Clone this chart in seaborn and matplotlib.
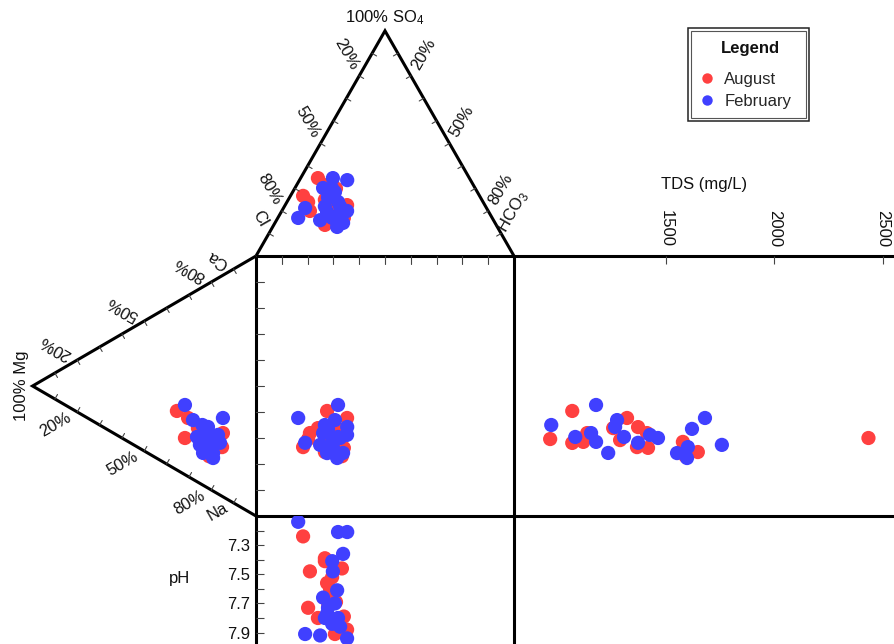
import numpy as np
import pandas as pd
import matplotlib
matplotlib.use('Agg')
import matplotlib.pyplot as plt
from matplotlib.lines import Line2D
from matplotlib.patches import Rectangle
import seaborn as sns

# sampling campaign of each sample
month = ['August'] * 16 + ['February'] * 18

# anions, % of meq (Cl = 100 - HCO3 - SO4)
hco3 = [4.9, 10.9, 8.2, 6.7, 19.8, 11.8, 24.3, 24.0, 20.6, 14.2, 15.5, 20.7, 16.0, 19.0, 25.6, 19.0,
        7.9, 19.8, 18.5, 8.4, 16.9, 10.9, 12.5, 26.4, 17.8, 25.0, 16.4, 21.1, 14.9, 15.7, 22.8, 14.5, 25.3, 21.6]
so4 = [26.7, 20.0, 24.0, 34.6, 13.8, 31.5, 18.0, 22.6, 20.0, 25.0, 28.0, 16.0, 30.0, 22.0, 16.9, 18.0,
       16.9, 24.0, 33.7, 21.3, 15.9, 30.2, 34.6, 14.7, 19.5, 12.9, 28.4, 16.9, 26.0, 22.0, 18.0, 30.0, 20.0, 22.0]

# cations, % of meq (Na = 100 - Ca - Mg)
ca = [18.9, 24.5, 18.6, 20.8, 14.6, 22.7, 12.5, 22.5, 14.1, 16.1, 18.5, 17.7, 23.2, 19.4, 15.2, 19.5,
      30.3, 26.8, 23.5, 20.1, 14.8, 20.9, 16.5, 12.4, 14.6, 12.7, 22.8, 20.1, 22.5, 23.0, 17.2, 17.5, 22.7, 19.5]
mg = [15.2, 14.8, 22.0, 26.0, 20.0, 35.4, 21.0, 30.4, 31.8, 24.0, 20.0, 23.0, 22.0, 25.0, 22.0, 18.0,
      14.8, 31.8, 21.5, 16.1, 25.1, 22.0, 20.0, 23.7, 19.2, 19.2, 28.2, 20.6, 22.0, 24.0, 26.4, 22.0, 17.0, 21.0]

# TDS (mg/L) and pH
tds = [1366, 1136, 965, 1256, 1647, 1067, 1590, 1320, 2435, 1067, 1118, 1288, 1371, 1412, 1417, 1578,
       1680, 1177, 1265, 1371, 1758, 1154, 1601, 1233, 1551, 1597, 1274, 1081, 1620, 970, 1306, 1177, 1426, 1463]
ph = [7.24, 7.48, 7.73, 7.80, 7.39, 7.56, 7.46, 7.88, 7.91, 7.41, 7.52, 7.60, 7.69, 7.64, 7.79, 7.71,
      7.14, 7.21, 7.21, 7.91, 7.92, 7.66, 7.48, 7.36, 7.77, 7.61, 7.70, 7.41, 7.73, 7.80, 7.80, 7.84, 7.94, 7.86]

pct_labels = [20, 50, 80]
tds_ticks = [1500, 2000, 2500]
ph_ticks = [7.2, 7.3, 7.4, 7.5, 7.6, 7.7, 7.8, 7.9]
ph_labels = ['', '7.3', '', '7.5', '', '7.7', '', '7.9']

pal = {'August': '#ff4040', 'February': '#4040ff'}

sns.set_theme(style='white')
plt.rcParams['font.family'] = ['Liberation Sans', 'DejaVu Sans']
plt.rcParams['mathtext.default'] = 'regular'
txt_color = '#111111'

df = pd.DataFrame({'month': month, 'hco3': hco3, 'so4': so4, 'ca': ca, 'mg': mg, 'tds': tds, 'ph': ph})
r3 = np.sqrt(3) / 2
# Durov projection: anion triangle on top, cation triangle on the left
df['ax'] = df['hco3'] + df['so4'] / 2
df['ay'] = 100 + df['so4'] * r3
df['cx'] = -df['mg'] * r3
df['cy'] = df['ca'] + df['mg'] / 2

W, H = 894, 644
fig = plt.figure(figsize=(W / 100, H / 100), dpi=100)

# square sits at these pixels
X0, X1, Y0, Y1 = 256, 514, 516, 256
xlim = (-X0 / (X1 - X0) * 100, (W - X0) / (X1 - X0) * 100)
ylim = ((Y0 - H) / (Y0 - Y1) * 100, Y0 / (Y0 - Y1) * 100)

ax = fig.add_axes([0, 0, 1, 1])
kw = dict(hue='month', palette=pal, s=105, linewidth=0, legend=False, ax=ax)
sns.scatterplot(data=df, x='ax', y='ay', **kw)
sns.scatterplot(data=df, x='cx', y='cy', **kw)
sns.scatterplot(data=df, x='ax', y='cy', **kw)
ax.set_xlim(*xlim)
ax.set_ylim(*ylim)
ax.axis('off')

line = dict(color='black', lw=2.2, solid_joinstyle='miter', solid_capstyle='butt')
top = 100 + 100 * r3
ax.plot([0, 50, 100], [100, top, 100], **line)
ax.plot([0, -100 * r3, 0], [100, 50, 0], **line)
ax.plot([0, 0], [100, ylim[0]], **line)
ax.plot([100, 100], [100, ylim[0]], **line)
ax.plot([0, xlim[1]], [100, 100], **line)
ax.plot([0, xlim[1]], [0, 0], **line)

# small ticks inside square
tk = dict(color='#444444', lw=0.8)
for v in range(10, 100, 10):
    ax.plot([v, v], [100, 100 - 8 / 2.6], **tk)
    ax.plot([0, 8 / 2.58], [v, v], **tk)

# ticks on triangle edges (start, end, inward normal)
edges = [((0, 100), (50, top), (r3, -0.5)),
         ((50, top), (100, 100), (-r3, -0.5)),
         ((-100 * r3, 50), (0, 100), (0.5, -r3)),
         ((-100 * r3, 50), (0, 0), (0.5, r3))]
for p, q, n in edges:
    for t in np.arange(0.1, 1.0, 0.1):
        x = p[0] + t * (q[0] - p[0])
        y = p[1] + t * (q[1] - p[1])
        ax.plot([x, x + 2 * n[0]], [y, y + 2 * n[1]], **tk)


def lab(text, xy, direction, dist, rot, **extra):
    ax.annotate(text, xy=xy, xytext=(dist * direction[0], dist * direction[1]),
                textcoords='offset pixels', rotation=rot, ha='center', va='center',
                fontsize=12, color=txt_color, **extra)


for p in pct_labels:
    f = p / 100
    lab(f'{p}%', (50 * (1 - f), 100 + 100 * r3 * (1 - f)), (-0.5, r3), 25, -60)
    lab(f'{p}%', (50 + 50 * f, top - 100 * r3 * f), (0.5, r3), 25, 60)
    lab(f'{p}%', (-100 * r3 * (1 - f), 50 + 50 * f), (-r3, 0.5), 25, 150)
    lab(f'{p}%', (-100 * r3 * (1 - f), 50 - 50 * f), (-r3, -0.5), 25, 30)

lab('Cl', (5, 100 + 10 * r3), (-0.5, r3), 17, -60)
lab('HCO$_3$', (95, 100 + 10 * r3), (0.5, r3), 25, 60)
lab('Ca', (-10 * r3, 95), (-r3, 0.5), 18, 150)
lab('Na', (-10 * r3, 5), (-r3, -0.5), 18, 30)
ax.annotate('100% SO$_4$', xy=(50, top), xytext=(0, 4), textcoords='offset pixels',
            ha='center', va='bottom', fontsize=12, color=txt_color)
ax.annotate('100% Mg', xy=(-100 * r3, 50), xytext=(-4, 0), textcoords='offset pixels',
            ha='right', va='center', rotation=90, fontsize=12, color=txt_color)

# TDS panel to the right of the square
ax_t = fig.add_axes([X1 / W, (H - Y0) / H, (W - X1) / W, (Y0 - Y1) / H])
ax_t.patch.set_visible(False)
sns.scatterplot(data=df, x='tds', y='cy', hue='month', palette=pal, s=105, linewidth=0,
                legend=False, ax=ax_t)
ax_t.set_xlim(798, 2553)
ax_t.set_ylim(0, 100)
ax_t.set_yticks([])
ax_t.set_xticks(tds_ticks)
ax_t.set_xticklabels([str(v) for v in tds_ticks])
ax_t.xaxis.tick_top()
ax_t.xaxis.set_label_position('top')
ax_t.tick_params(axis='x', direction='in', length=5.8, width=0.8, color='#444444', pad=6.5,
                 labelrotation=-90, labelsize=12, labelcolor=txt_color, top=True, bottom=False)
ax_t.set_xlabel('TDS (mg/L)', fontsize=12, color=txt_color, labelpad=15)
ax_t.set_ylabel('')
for s in ax_t.spines.values():
    s.set_visible(False)

# pH panel below the square
ax_p = fig.add_axes([X0 / W, 0, (X1 - X0) / W, (H - Y0) / H])
ax_p.patch.set_visible(False)
sns.scatterplot(data=df, x='ax', y='ph', hue='month', palette=pal, s=105, linewidth=0,
                legend=False, ax=ax_p)
ax_p.set_xlim(0, 100)
ax_p.set_ylim(7.1 + (H - Y0) / 145.7, 7.1)
ax_p.set_xticks([])
ax_p.set_yticks(ph_ticks)
ax_p.set_yticklabels(ph_labels)
ax_p.tick_params(axis='y', direction='in', length=5.8, width=0.8, color='#444444', pad=4.3,
                 labelsize=12, labelcolor=txt_color, left=True)
ax_p.set_xlabel('')
ax_p.set_ylabel('pH', rotation=0, fontsize=12, color=txt_color, ha='center', va='center')
ax_p.yaxis.set_label_coords((180 - X0) / (X1 - X0), (H - 578) / (H - Y0))
for s in ax_p.spines.values():
    s.set_visible(False)

# legend with double frame
fig.add_artist(Rectangle((688 / W, 1 - 121 / H), 121 / W, 93 / H, transform=fig.transFigure,
                         fill=False, ec='#222222', lw=1.1))
fig.add_artist(Rectangle((691 / W, 1 - 118 / H), 115 / W, 87 / H, transform=fig.transFigure,
                         fill=False, ec='#555555', lw=0.8))
fig.text(750 / W, 1 - 48 / H, 'Legend', ha='center', va='center', fontsize=12,
         fontweight='bold', color=txt_color)
handles = [Line2D([], [], ls='', marker='o', markersize=7.5, markeredgewidth=0, color=pal[m])
           for m in ['August', 'February']]
ax.legend(handles, ['August', 'February'], loc='upper left', bbox_to_anchor=(700 / W, 1 - 72 / H),
          bbox_transform=fig.transFigure, frameon=False, fontsize=12, handlelength=0.8,
          handletextpad=0.65, labelspacing=0.43, borderpad=0, borderaxespad=0)

fig.savefig('out.png', dpi=100)
